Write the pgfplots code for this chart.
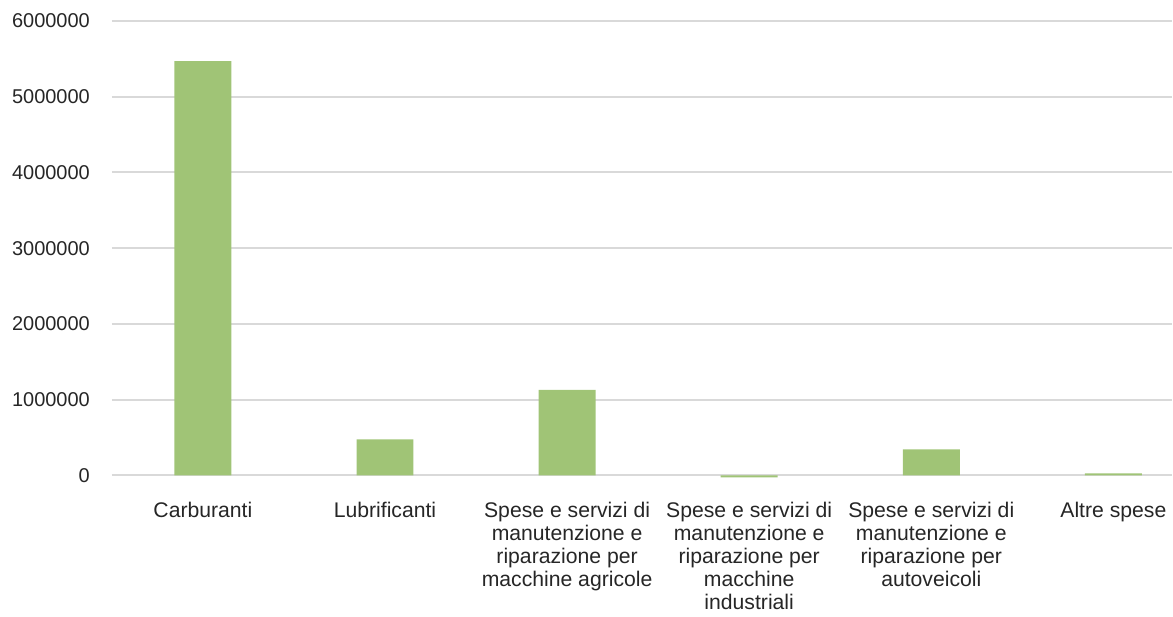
\documentclass[border=0pt]{standalone}
\usepackage{fontspec}
\setmainfont{Liberation Sans}
\usepackage{pgfplots}
\pgfplotsset{compat=1.18}
\definecolor{barg}{HTML}{A0C476}
\definecolor{gridg}{HTML}{D9D9D9}
\definecolor{txt}{HTML}{262626}

\begin{document}
\begin{tikzpicture}
\begin{axis}[
  scale only axis,
  width=530.5pt, height=227.5pt,
  xmin=-0.5, xmax=5.32,
  ymin=0, ymax=6000000,
  clip=false,
  ybar, bar width=28.5pt,
  axis line style={draw=none},
  tick style={draw=none},
  ytick={0,1000000,...,6000000},
  scaled y ticks=false,
  yticklabel style={/pgf/number format/fixed, /pgf/number format/1000 sep={},
    /pgf/number format/assume math mode=true,
    font=\fontsize{10}{12}\selectfont, text=txt, xshift=-7.5pt},
  ymajorgrids, major grid style={gridg, line width=1pt},
  xtick=data,
  xticklabels={Carburanti, Lubrificanti,
    {Spese e servizi di\\manutenzione e\\riparazione per\\macchine agricole},
    {Spese e servizi di\\manutenzione e\\riparazione per\\macchine\\industriali},
    {Spese e servizi di\\manutenzione e\\riparazione per\\autoveicoli},
    Altre spese},
  xticklabel style={align=center, font=\fontsize{10.6}{11.5}\selectfont,
    text=txt, anchor=north, yshift=-5.5pt},
]
\addplot[fill=barg, draw=none, bar shift=0pt] coordinates {
  (0,5470000) (1,475000) (2,1130000) (3,-25000) (4,343000) (5,28000)
};
\end{axis}
\path[use as bounding box] (-56pt,-69pt) rectangle (530.5pt,238pt);
\end{tikzpicture}
\end{document}
